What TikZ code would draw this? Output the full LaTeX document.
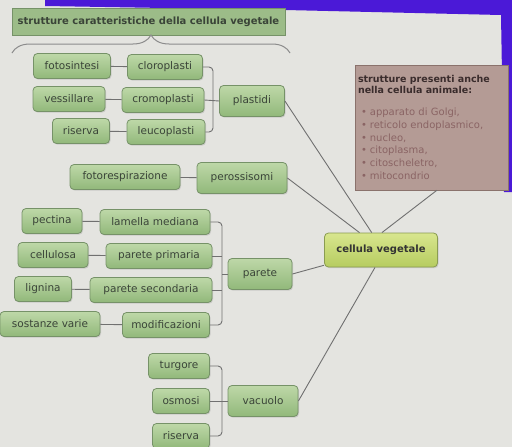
\documentclass[tikz,border=0pt]{standalone}
\usepackage{fontspec}
\setmainfont{DejaVu Sans}
\usetikzlibrary{positioning,calc,shadows,decorations.pathreplacing}

\definecolor{bg}{RGB}{228,228,224}
\definecolor{slide}{RGB}{75,25,215}
\definecolor{gtop}{RGB}{190,216,168}
\definecolor{gbot}{RGB}{145,184,122}
\definecolor{gedge}{RGB}{118,146,104}
\definecolor{gtxt}{RGB}{58,68,56}
\definecolor{ttlfill}{RGB}{156,188,136}
\definecolor{ytop}{RGB}{216,230,142}
\definecolor{ybot}{RGB}{182,204,96}
\definecolor{yedge}{RGB}{138,156,82}
\definecolor{brn}{RGB}{180,155,149}
\definecolor{brnedge}{RGB}{138,114,108}
\definecolor{brntxt}{RGB}{58,44,44}
\definecolor{bultxt}{RGB}{138,100,100}
\definecolor{lnc}{RGB}{112,112,112}

\begin{document}
\begin{tikzpicture}[x=1pt,y=-1pt,
  ln/.style={draw=lnc,line width=0.9pt},
  bx/.style={draw=gedge,line width=0.8pt,rounded corners=4pt,
    top color=gtop,bottom color=gbot,text=gtxt,inner sep=0pt,
    font=\fontsize{10.5}{12}\selectfont,minimum height=25pt,
    drop shadow={shadow xshift=1pt,shadow yshift=-1.2pt,opacity=0.25}},
  hb/.style={bx,minimum height=31pt},
  root/.style={bx,top color=ytop,bottom color=ybot,draw=yedge,
    font=\bfseries\fontsize{10}{12}\selectfont,text=black!80,
    minimum width=113pt,minimum height=34pt},
  ttl/.style={draw=gedge,fill=ttlfill,text=gtxt,inner sep=0pt,
    font=\bfseries\fontsize{10}{12}\selectfont,
    minimum width=273pt,minimum height=27pt},
  anim/.style={draw=brnedge,fill=brn,text=bultxt,inner xsep=3pt,inner ysep=0pt,
    minimum width=153pt,minimum height=125pt,text width=147pt,align=left,
    font=\fontsize{10}{12.8}\selectfont}]
\useasboundingbox (0,0) rectangle (512,447);
\fill[bg] (0,0) rectangle (512,447);
% screen edge
\fill[slide] (45,0) -- (512,0) -- (512,192) -- (504,192) -- (501,15) -- (285,10) -- (45,6) -- cycle;

\node[ttl] (title) at (148.5,21.5) {strutture caratteristiche della cellula vegetale};
\draw[draw=black!45,line width=1pt,decorate,decoration={brace,amplitude=18pt}] (12,53) -- (290,53);

% plastidi
\node[bx,minimum width=77pt] (fot) at (72,66)  {fotosintesi};
\node[bx,minimum width=75pt] (clo) at (165,67) {cloroplasti};
\node[bx,minimum width=72pt] (ves) at (69,99)  {vessillare};
\node[bx,minimum width=82pt] (cro) at (163,100) {cromoplasti};
\node[bx,minimum width=57pt] (ris) at (81,131) {riserva};
\node[bx,minimum width=78pt] (leu) at (166,132) {leucoplasti};
\node[hb,minimum width=65pt] (pla) at (252,101) {plastidi};

% perossisomi
\node[bx,minimum width=110pt] (fres) at (125,177) {fotorespirazione};
\node[hb,minimum width=90pt] (per) at (242,178) {perossisomi};

% parete
\node[bx,minimum width=60pt]  (pec)  at (52,221)  {pectina};
\node[bx,minimum width=110pt] (lam)  at (155,222) {lamella mediana};
\node[bx,minimum width=70pt]  (cel)  at (53,255)  {cellulosa};
\node[bx,minimum width=106pt] (pri)  at (159,256) {parete primaria};
\node[bx,minimum width=57pt]  (lig)  at (43,289)  {lignina};
\node[bx,minimum width=122pt] (sec)  at (151,290) {parete secondaria};
\node[bx,minimum width=100pt] (sost) at (50,324)  {sostanze varie};
\node[bx,minimum width=87pt]  (mod)  at (166,325) {modificazioni};
\node[hb,minimum width=64pt]  (par)  at (260,274) {parete};

% vacuolo
\node[bx,minimum width=61pt] (tur)  at (179,366) {turgore};
\node[bx,minimum width=57pt] (osm)  at (181,401) {osmosi};
\node[bx,minimum width=57pt] (risv) at (181,436) {riserva};
\node[hb,minimum width=70pt] (vac)  at (263,401) {vacuolo};

\node[root] (cv) at (381,250) {cellula vegetale};

\node[anim] (anim) at (431.5,127.5) {%
  {\color{brntxt}\bfseries\fontsize{9.5}{11}\selectfont strutture presenti anche\\
  nella cellula animale:\par}\vspace{9pt}
  \hspace{3pt}\textbullet\hspace{3pt}apparato di Golgi,\\
  \hspace{3pt}\textbullet\hspace{3pt}reticolo endoplasmico,\\
  \hspace{3pt}\textbullet\hspace{3pt}nucleo,\\
  \hspace{3pt}\textbullet\hspace{3pt}citoplasma,\\
  \hspace{3pt}\textbullet\hspace{3pt}citoscheletro,\\
  \hspace{3pt}\textbullet\hspace{3pt}mitocondrio};

% connectors
\coordinate (jp) at (213,101);
\coordinate (jw) at (222,274);
\coordinate (jv) at (222,401);
\draw[ln] (fot) -- (clo); \draw[ln] (ves) -- (cro); \draw[ln] (ris) -- (leu);
\draw[ln,rounded corners=4pt] (clo.east) -| (jp) |- (leu.east);
\draw[ln] (cro.east) -- (pla.west);
\draw[ln] (fres) -- (per);
\draw[ln] (pec) -- (lam); \draw[ln] (cel) -- (pri);
\draw[ln] (lig) -- (sec); \draw[ln] (sost) -- (mod);
\draw[ln,rounded corners=4pt] (lam.east) -| (jw) |- (mod.east);
\draw[ln] (pri.east) -- (pri.east -| jw); \draw[ln] (sec.east) -- (sec.east -| jw);
\draw[ln] (jw) -- (par.west);
\draw[ln,rounded corners=4pt] (tur.east) -| (jv) |- (risv.east);
\draw[ln] (osm.east) -- (vac.west);
\draw[ln] (pla.east) -- (cv.118);
\draw[ln] (per.east) -- (cv.141);
\draw[ln] (anim.275) -- (cv.87);
\draw[ln] (par.east) -- (cv.195);
\draw[ln] (vac.east) -- (cv.251);
\end{tikzpicture}
\end{document}
